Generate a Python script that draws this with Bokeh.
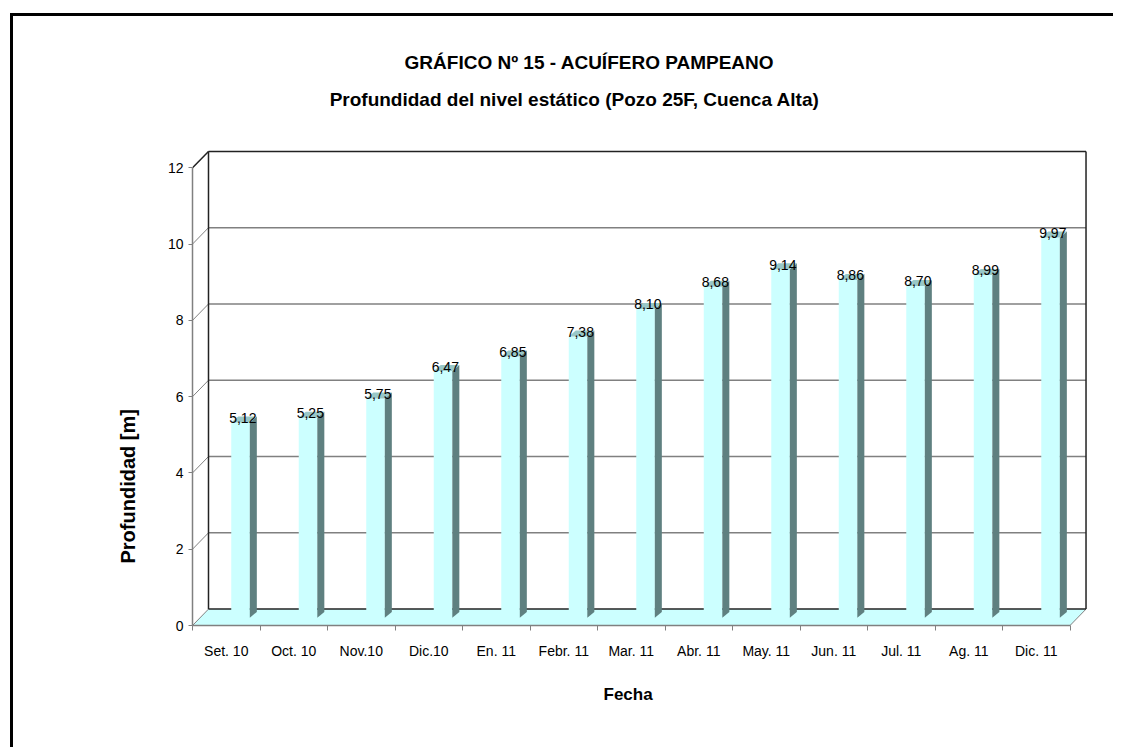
from bokeh.plotting import figure
from bokeh.models import FixedTicker, ColumnDataSource, Range1d, Title
from bokeh.embed import file_html
from bokeh.resources import INLINE
from bokeh.core.properties import value

# ---- data ----
categories = ["Set. 10", "Oct. 10", "Nov.10", "Dic.10", "En. 11", "Febr. 11",
              "Mar. 11", "Abr. 11", "May. 11", "Jun. 11", "Jul. 11", "Ag. 11", "Dic. 11"]
depths = [5.12, 5.25, 5.75, 6.47, 6.85, 7.38, 8.10, 8.68, 9.14, 8.86, 8.70, 8.99, 9.97]
y_ticks = [0, 2, 4, 6, 8, 10, 12]

title_text = "GRÁFICO Nº 15 - ACUÍFERO PAMPEANO"
subtitle_text = "Profundidad del nivel estático (Pozo 25F, Cuenca Alta)"
x_title = "Fecha"
y_title = "Profundidad [m]"

# ---- style / 3D geometry ----
FONT = "Liberation Sans"
DX, DY = 0.237, 0.43          # depth of the wall (x in category units, y in metres)
BAR_OFF, BAR_W = 0.074, 0.275  # bar front face offset from category centre, width
BAR_DX, BAR_DY = 0.104, 0.157  # bar depth
BASE = 0.2
FRONT = "#CCFFFF"
SIDE = "#5F8080"
TOP = "#99C7C7"
GRID = "#808080"

n = len(categories)
ymax = max(y_ticks)
centers = [i + 0.5 for i in range(n)]

p = figure(width=1100, height=731, output_backend="svg", toolbar_location=None,
           x_range=Range1d(0, 13.333), y_range=Range1d(0, 15.6),
           frame_width=900, frame_height=595,
           min_border_left=179, min_border_right=21, min_border_top=14, min_border_bottom=122)
p.styles = {"border-left": "3px solid black", "border-top": "3px solid black",
            "margin-left": "10px", "margin-top": "13px"}
p.outline_line_color = None
p.grid.visible = False
p.background_fill_color = "white"
p.border_fill_color = "white"

# floor
p.patch([0, n, n + DX, DX], [0, 0, DY, DY], fill_color=FRONT, line_color=None)

# back wall gridlines
inner = [t for t in y_ticks if t not in (0, ymax)]
p.segment(x0=[DX] * len(inner), y0=[t + DY for t in inner],
          x1=[n + DX] * len(inner), y1=[t + DY for t in inner],
          line_color=GRID, line_width=1.5)
# diagonal ticks from front axis to wall
p.segment(x0=[0] * len(y_ticks), y0=y_ticks, x1=[DX] * len(y_ticks),
          y1=[t + DY for t in y_ticks], line_color=GRID, line_width=1)
p.segment(x0=[n], y0=[0], x1=[n + DX], y1=[DY], line_color=GRID, line_width=1)
# wall frame (black)
p.segment(x0=[DX, DX, DX, n + DX], y0=[DY, ymax + DY, DY, DY],
          x1=[n + DX, n + DX, DX, n + DX], y1=[DY, ymax + DY, ymax + DY, ymax + DY],
          line_color="#222222", line_width=1.5)
p.segment(x0=[0], y0=[ymax], x1=[DX], y1=[ymax + DY], line_color="#222222", line_width=1.5)

# bars
lefts = [c + BAR_OFF for c in centers]
rights = [l + BAR_W for l in lefts]
tops = [v + BASE for v in depths]
p.quad(left=lefts, right=rights, bottom=[BASE] * n, top=tops,
       fill_color=FRONT, line_color=None)
side_xs = [[r, r + BAR_DX, r + BAR_DX, r] for r in rights]
side_ys = [[BASE, BASE + BAR_DY, t + BAR_DY, t] for t in tops]
p.patches(side_xs, side_ys, fill_color=SIDE, line_color=None)
top_xs = [[l, r, r + BAR_DX, l + BAR_DX] for l, r in zip(lefts, rights)]
top_ys = [[t, t, t + BAR_DY, t + BAR_DY] for t in tops]
p.patches(top_xs, top_ys, fill_color=TOP, line_color=None)

# value labels
lab_src = ColumnDataSource(dict(
    x=[c + 0.245 for c in centers],
    y=[v + 0.32 for v in depths],
    t=[f"{v:.2f}".replace(".", ",") for v in depths]))
p.text(x="x", y="y", text="t", source=lab_src, text_align="center", text_baseline="middle",
       text_font=value(FONT), text_font_size="14px", text_color="black")

# chart title and subtitle (inside the plotting area, above the wall)
ttl_src = ColumnDataSource(dict(x=[5.88, 5.66], y=[14.77, 13.80],
                                t=[title_text, subtitle_text]))
p.text(x="x", y="y", text="t", source=ttl_src, text_align="center", text_baseline="middle",
       text_font=value(FONT), text_font_size="19px", text_font_style="bold",
       text_color="black")

# axes
ya = p.yaxis[0]
ya.ticker = FixedTicker(ticks=y_ticks, minor_ticks=[])
ya.bounds = (0, ymax)
ya.axis_line_color = GRID
ya.axis_line_width = 1.5
ya.major_tick_line_color = GRID
ya.major_tick_out = 4
ya.major_tick_in = 0
ya.major_label_standoff = 5
ya.major_label_text_font = FONT
ya.major_label_text_font_size = "14px"
ya.major_label_text_color = "black"

xa = p.xaxis[0]
xa.ticker = FixedTicker(ticks=centers, minor_ticks=list(range(n + 1)))
xa.major_label_overrides = {c: cat for c, cat in zip(centers, categories)}
xa.bounds = (0, n)
xa.axis_line_color = GRID
xa.axis_line_width = 1.5
xa.major_tick_line_color = None
xa.major_tick_out = 0
xa.major_tick_in = 0
xa.minor_tick_line_color = GRID
xa.minor_tick_out = 5
xa.minor_tick_in = 0
xa.major_label_standoff = 12
xa.major_label_text_font = FONT
xa.major_label_text_font_size = "14px"
xa.major_label_text_color = "black"

# axis titles
p.add_layout(Title(text=x_title, align="left", offset=411, standoff=46, vertical_align="top",
                   text_font=FONT, text_font_size="17px", text_font_style="bold",
                   text_color="black"), "below")
p.add_layout(Title(text=y_title, align="left", offset=62, standoff=52, vertical_align="bottom",
                   text_font=FONT, text_font_size="20px", text_font_style="bold",
                   text_color="black"), "left")

open("out.html", "w").write(file_html(p, INLINE))
